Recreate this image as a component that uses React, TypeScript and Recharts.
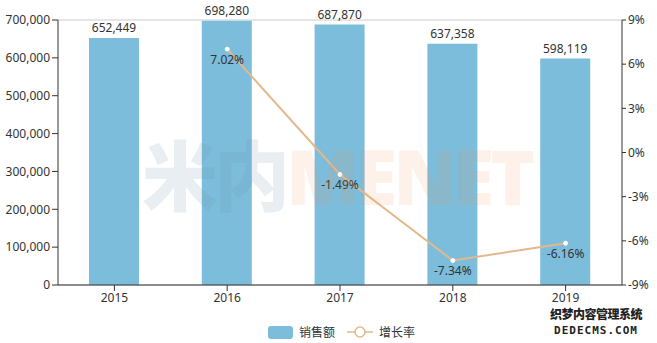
import React from 'react';
import {
  ComposedChart, Bar, Line, XAxis, YAxis, CartesianGrid, LabelList, Legend,
} from 'recharts';

const years = ['2015', '2016', '2017', '2018', '2019'];
const sales = [652449, 698280, 687870, 637358, 598119];
const growth = [null, 7.02, -1.49, -7.34, -6.16];
const leftTicks = [0, 100000, 200000, 300000, 400000, 500000, 600000, 700000];
const rightTicks = [-9, -6, -3, 0, 3, 6, 9];

const data = years.map((year, i) => ({ year, sales: sales[i], growth: growth[i] }));

const BAR = '#7bbddb';
const LINE = '#e4b88c';
const FONT = '"Noto Sans", "Noto Sans CJK SC", sans-serif';

const fmt = (v: number) => v.toLocaleString('en-US');

const renderLegend = () => (
  <div style={{ display: 'flex', justifyContent: 'flex-start', paddingLeft: 268, marginTop: 12, fontSize: 12, color: '#333', fontFamily: FONT }}>
    <span style={{ display: 'flex', alignItems: 'center', marginRight: 12 }}>
      <span style={{ display: 'inline-block', width: 25, height: 13, background: BAR, borderRadius: 3, marginRight: 6 }} />
      销售额
    </span>
    <span style={{ display: 'flex', alignItems: 'center' }}>
      <svg width={26} height={14} style={{ marginRight: 6 }}>
        <line x1={0} y1={7} x2={26} y2={7} stroke={LINE} strokeWidth={1.5} />
        <circle cx={13} cy={7} r={5} fill="#fff" stroke={LINE} strokeWidth={1.5} />
      </svg>
      增长率
    </span>
  </div>
);

export default function App() {
  return (
    <div style={{ position: 'absolute', top: 0, left: 0, width: 657, height: 343, fontFamily: FONT }}>
      <ComposedChart
        width={657}
        height={343}
        data={data}
        margin={{ top: 20, right: 0, bottom: 6, left: 0 }}
        style={{ fontFamily: FONT }}
      >
        <CartesianGrid vertical={false} stroke="#cccccc" />
        <XAxis
          dataKey="year"
          axisLine={{ stroke: '#333' }}
          tickLine={{ stroke: '#333' }}
          tick={{ fill: '#333', fontSize: 12 }}
          height={26}
          interval={0}
        />
        <YAxis
          yAxisId="left"
          width={58}
          domain={[0, 700000]}
          ticks={leftTicks}
          tickFormatter={fmt}
          axisLine={{ stroke: '#333' }}
          tickLine={{ stroke: '#333' }}
          tickSize={6}
          tick={{ fill: '#333', fontSize: 12 }}
        />
        <YAxis
          yAxisId="right"
          orientation="right"
          width={35}
          domain={[-9, 9]}
          ticks={rightTicks}
          tickFormatter={(v: number) => `${v}%`}
          axisLine={{ stroke: '#333' }}
          tickLine={{ stroke: '#333' }}
          tickSize={4}
          tick={{ fill: '#333', fontSize: 12 }}
        />
        <Legend content={renderLegend} verticalAlign="bottom" height={26} />
        <Bar yAxisId="left" dataKey="sales" fill={BAR} barSize={50} isAnimationActive={false}>
          <LabelList dataKey="sales" position="top" formatter={(v: number) => fmt(v)} fill="#333" fontSize={12} offset={6} />
        </Bar>
        <Line
          yAxisId="right"
          dataKey="growth"
          stroke={LINE}
          strokeWidth={2}
          dot={{ r: 2, fill: '#fff', stroke: '#fff', strokeWidth: 1 }}
          activeDot={false}
          isAnimationActive={false}
        >
          <LabelList dataKey="growth" position="bottom" formatter={(v: number) => (v == null ? '' : `${v.toFixed(2)}%`)} fill="#333" fontSize={12} offset={6} />
        </Line>
      </ComposedChart>
      <div style={{ position: 'absolute', left: 142, top: 138, fontSize: 76, fontWeight: 900, lineHeight: 1, letterSpacing: -4, pointerEvents: 'none', whiteSpace: 'nowrap' }}>
        <span style={{ color: 'rgba(110,150,175,0.16)' }}>米内</span>
        <span style={{ color: 'rgba(245,150,90,0.13)' }}>MENET</span>
      </div>
      <div style={{ position: 'absolute', left: 546, top: 307, width: 100, textAlign: 'center', fontWeight: 900, color: '#222', pointerEvents: 'none' }}>
        <div style={{ fontSize: 12, letterSpacing: -0.5, lineHeight: '16px' }}>织梦内容管理系统</div>
        <div style={{ fontSize: 11, fontFamily: '"DejaVu Sans Mono", monospace', letterSpacing: 1, lineHeight: '15px' }}>DEDECMS.COM</div>
      </div>
    </div>
  );
}
